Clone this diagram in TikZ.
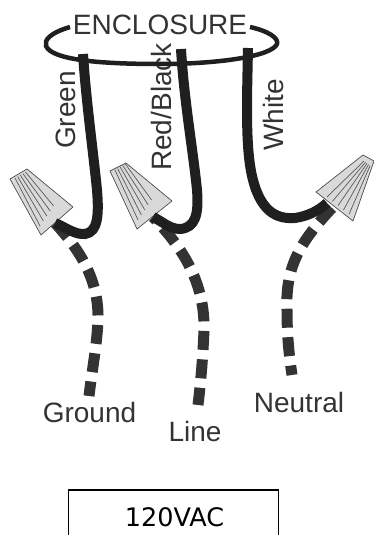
\documentclass[tikz,border=0pt]{standalone}
\usepackage{fontspec}
\setmainfont{Liberation Sans}
\newfontfamily\boxfont{DejaVu Sans}
\usetikzlibrary{positioning}
\definecolor{wirecol}{gray}{0.12}
\definecolor{dashcol}{gray}{0.2}
\definecolor{textcol}{gray}{0.2}
\tikzset{
    wiresolid/.style = {line width=10pt,wirecol,line cap=butt},
    wiredash/.style = {line width=11pt,dashcol,dash pattern=on 19pt off 9.5pt},
    ringline/.style = {line width=4.5pt,wirecol},
    nutbody/.style = {draw=black!70,line width=0.7pt,fill=black!15,line join=round},
    nutline/.style = {black!65,line width=0.7pt},
    wirelabel/.style = {font=\fontsize{28}{30}\selectfont,text=textcol,inner sep=0pt},
    boxlabel/.style = {font=\boxfont\fontsize{25.5}{28}\selectfont,text=black,inner sep=0pt}
}
\begin{document}
\begin{tikzpicture}[x=1pt,y=-1pt]
\useasboundingbox (0,0) rectangle (374,535);
% labels
\node[wirelabel] at (160,24.5) (enclosure) {ENCLOSURE};
\node[wirelabel,rotate=90] at (66,110) (green) {Green};
\node[wirelabel,rotate=90] at (161,107) (redblack) {Red/Black};
\node[wirelabel,rotate=90] at (273,115) (white) {White};
\node[wirelabel] at (89.5,412) (ground) {Ground};
\node[wirelabel] at (195,431) (line) {Line};
\node[wirelabel] at (299,402.5) (neutral) {Neutral};
% ring
\coordinate (ringa) at (70,27);
\coordinate (ringb) at (250,27);
\draw[ringline] (ringa) .. controls (50,33) and (44,40) .. (46,46) .. controls (52,60) and (100,64) .. (160,64) .. controls (220,64) and (272,56) .. (277,44) .. controls (279,38) and (268,31) .. (ringb);
% wire ends at the top and at the nuts
\coordinate (gtop) at (83,54);
\coordinate (gnut) at (55,223);
\coordinate (rtop) at (181,49);
\coordinate (rnut) at (153,217);
\coordinate (wtop) at (248,48);
\coordinate (wnut) at (332,208);
\coordinate (gend) at (89,396);
\coordinate (lend) at (198,405);
\coordinate (nend) at (292,375);
% dashed wires
\draw[wiredash] (gnut) .. controls (80,250) and (99,280) .. (98,320) .. controls (97,345) and (92,370) .. (gend);
\draw[wiredash,dash phase=14pt] (rnut) .. controls (180,245) and (205,280) .. (204,330) .. controls (203,355) and (201,380) .. (lend);
\draw[wiredash] (wnut) .. controls (302,240) and (285,265) .. (287,310) .. controls (287,335) and (289,355) .. (nend);
% nuts
\draw[nutbody] (10,179) -- (27,169) -- (73,207) -- (41,235) -- cycle;
\draw[nutbody] (110,171) -- (126,163) -- (172,201) -- (137,229) -- cycle;
\draw[nutbody] (316,192) -- (363,155) -- (374,161) -- (353,221) -- cycle;
\foreach \s in {0,1,2,3,4}{
  \draw[nutline] (15+\s*2.6,178-\s*1.5) -- (40+\s*3.4,226-\s*5);
  \draw[nutline] (115+\s*2.6,170-\s*1.5) -- (138+\s*3.4,220-\s*5);
  \draw[nutline] (327+\s*5.5,197+\s*4.3) -- (364+\s*1.5,161+\s*1.2);
}
% solid wires
\draw[wiresolid] (gtop) .. controls (86,100) and (93,150) .. (97,190) .. controls (99,215) and (98,232) .. (85,234) .. controls (75,235) and (65,227) .. (gnut);
\draw[wiresolid] (rtop) .. controls (184,100) and (193,150) .. (197,190) .. controls (199,215) and (195,228) .. (180,229) .. controls (170,229) and (163,222) .. (rnut);
\draw[wiresolid] (wtop) .. controls (247,100) and (245,150) .. (253,180) .. controls (262,215) and (280,219) .. (295,218) .. controls (308,216) and (318,211) .. (327,203);
% box
\coordinate (boxbl) at (68.5,540);
\coordinate (boxbr) at (278.5,540);
\draw[line width=1.2pt,black] (boxbl) |- (278.5,490) -- (boxbr);
\node[boxlabel] at (174.5,517.5) (vac) {120VAC};
\end{tikzpicture}
\end{document}
